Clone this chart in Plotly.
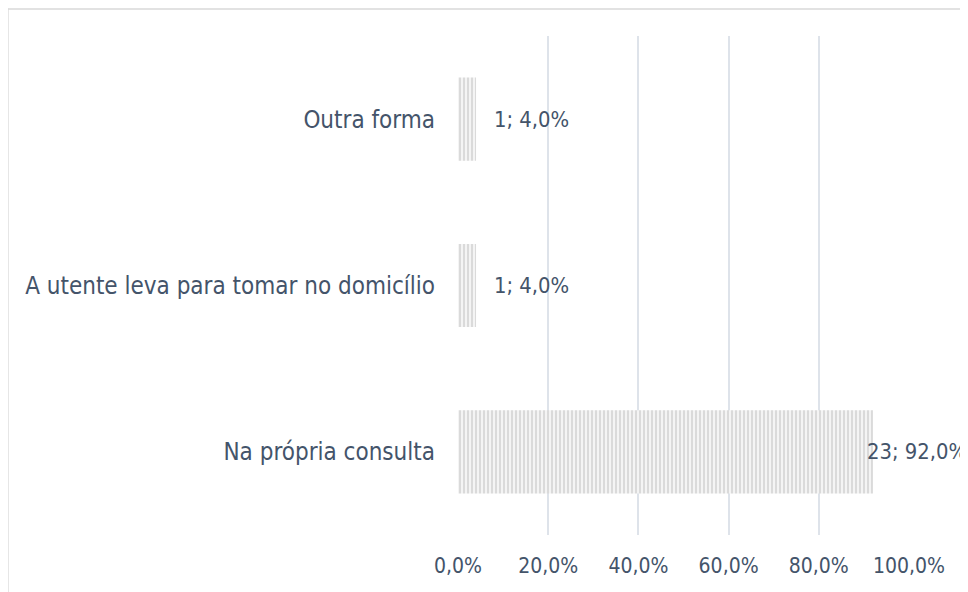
import plotly.graph_objects as go

categories = ["Na própria consulta", "A utente leva para tomar no domicílio", "Outra forma"]
counts = [23, 1, 1]
percents = [92.0, 4.0, 4.0]
x_ticks = [0, 20, 40, 60, 80, 100]
x_tick_labels = ["0,0%", "20,0%", "40,0%", "60,0%", "80,0%", "100,0%"]

labels = [f"{c}; {p:.1f}%".replace(".", ",") for c, p in zip(counts, percents)]

TXT = "#44546A"
FONT = "DejaVu Sans Condensed, DejaVu Sans"

fig = go.Figure()
fig.add_trace(go.Bar(
    y=categories, x=percents, orientation="h", width=0.5,
    marker=dict(color="white", line=dict(width=0),
                pattern=dict(shape="|", fgcolor="#B5B5B5", bgcolor="white", size=4, solidity=0.65)),
    hoverinfo="skip",
))

annotations = []
for cat, p, lab in zip(categories, percents, labels):
    shift = 16 if p < 90 else -8
    annotations.append(dict(x=p, y=cat, xref="x", yref="y", text=lab, showarrow=False,
                            xanchor="left", xshift=shift,
                            font=dict(family=FONT, size=21.8, color=TXT)))
fig.update_layout(annotations=annotations)

fig.add_shape(type="line", xref="paper", yref="paper", x0=-0.998, x1=-0.998, y0=-0.3, y1=1.055,
              line=dict(color="#D9D9D9", width=1.5))
fig.add_shape(type="line", xref="paper", yref="paper", x0=-0.998, x1=1.3, y0=1.054, y1=1.054,
              line=dict(color="#D9D9D9", width=1.5))

fig.update_layout(
    width=968, height=592,
    margin=dict(l=450, r=67, t=28, b=65),
    paper_bgcolor="white", plot_bgcolor="white",
    showlegend=False,
    font=dict(family=FONT, size=21, color=TXT),
    xaxis=dict(range=[0, 100], tickvals=x_ticks, ticktext=x_tick_labels,
               showgrid=True, gridcolor="#DEE3EA", gridwidth=1.5, zeroline=False,
               showline=False, ticks="", ticklabelstandoff=16,
               tickfont=dict(family=FONT, size=21, color=TXT)),
    yaxis=dict(categoryorder="array", categoryarray=categories,
               showgrid=False, zeroline=False, showline=False, ticks="",
               ticklabelstandoff=22, tickfont=dict(family=FONT, size=24, color=TXT)),
)

fig.write_html("out.html")
